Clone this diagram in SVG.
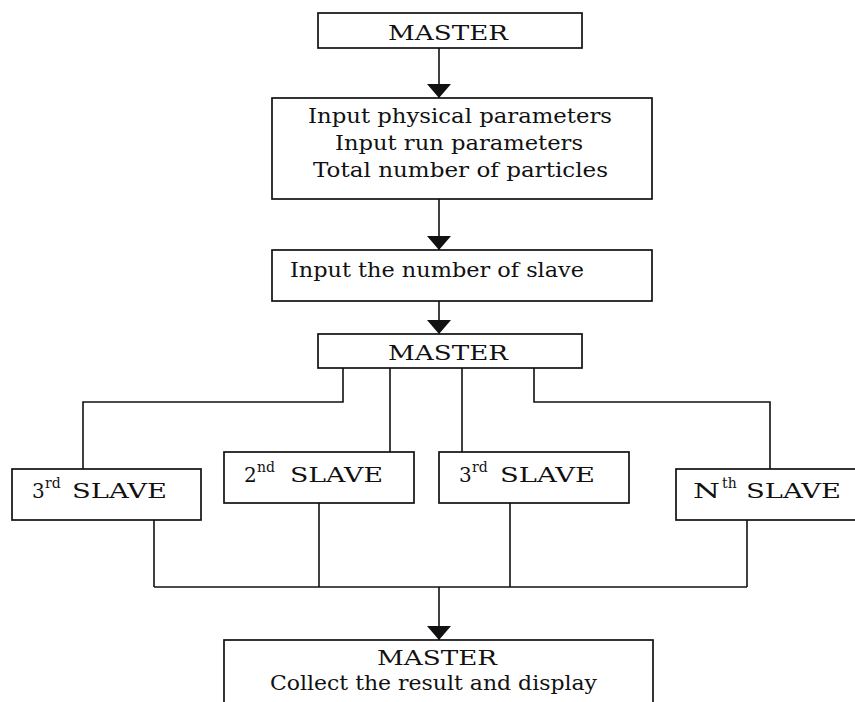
<svg xmlns="http://www.w3.org/2000/svg" width="855" height="702" viewBox="0 0 855 702">
<style>
  .box { fill: #ffffff; stroke: #111; stroke-width: 1.7; }
  .t { font-family: "DejaVu Serif", "Liberation Serif", serif; font-size: 20px; fill: #111; }
  .sup { font-size: 14px; }
  .wire { fill: none; stroke: #111; stroke-width: 1.6; }
</style>
<defs>
  <marker id="arrow" markerUnits="userSpaceOnUse" markerWidth="24" markerHeight="16" viewBox="0 0 24 16" refX="12" refY="15" orient="0">
    <path d="M0,1 L24,1 L12,15 Z" fill="#111"/>
  </marker>
</defs>
<rect width="855" height="702" fill="#ffffff"/>

<g id="connectors">
  <line class="wire" x1="439" y1="48" x2="439" y2="98" marker-end="url(#arrow)"/>
  <line class="wire" x1="439" y1="199" x2="439" y2="250" marker-end="url(#arrow)"/>
  <line class="wire" x1="439" y1="301" x2="439" y2="334" marker-end="url(#arrow)"/>
  <polyline class="wire" points="343,368 343,402 83,402 83,469"/>
  <line class="wire" x1="390" y1="368" x2="390" y2="452"/>
  <line class="wire" x1="462" y1="368" x2="462" y2="452"/>
  <polyline class="wire" points="534,368 534,402 770,402 770,469"/>
  <line class="wire" x1="154" y1="520" x2="154" y2="587"/>
  <line class="wire" x1="319" y1="503" x2="319" y2="587"/>
  <line class="wire" x1="510" y1="503" x2="510" y2="587"/>
  <line class="wire" x1="747" y1="520" x2="747" y2="587"/>
  <line class="wire" x1="154" y1="587" x2="747" y2="587"/>
  <line class="wire" x1="439" y1="587" x2="439" y2="640" marker-end="url(#arrow)"/>
</g>

<g id="master-top">
  <rect class="box" x="318" y="13" width="264" height="35"/>
  <text class="t" x="388" y="40" textLength="120" lengthAdjust="spacingAndGlyphs">MASTER</text>
</g>

<g id="input-params">
  <rect class="box" x="272" y="98" width="380" height="101"/>
  <text class="t">
    <tspan x="308" y="123" textLength="304" lengthAdjust="spacingAndGlyphs">Input physical parameters</tspan>
    <tspan x="335" y="150" textLength="248" lengthAdjust="spacingAndGlyphs">Input run parameters</tspan>
    <tspan x="313" y="177" textLength="295" lengthAdjust="spacingAndGlyphs">Total number of particles</tspan>
  </text>
</g>

<g id="input-slaves">
  <rect class="box" x="272" y="250" width="380" height="51"/>
  <text class="t" x="290" y="277" textLength="294" lengthAdjust="spacingAndGlyphs">Input the number of slave</text>
</g>

<g id="master-mid">
  <rect class="box" x="318" y="334" width="264" height="34"/>
  <text class="t" x="388" y="360" textLength="120" lengthAdjust="spacingAndGlyphs">MASTER</text>
</g>

<g id="slave-3-left">
  <rect class="box" x="12" y="469" width="189" height="51"/>
  <text class="t"><tspan x="32" y="498">3</tspan><tspan class="sup" x="45" y="488">rd</tspan><tspan x="72" y="498" textLength="95" lengthAdjust="spacingAndGlyphs">SLAVE</tspan></text>
</g>

<g id="slave-2">
  <rect class="box" x="224" y="452" width="190" height="51"/>
  <text class="t"><tspan x="244" y="482">2</tspan><tspan class="sup" x="257" y="472">nd</tspan><tspan x="290" y="482" textLength="93" lengthAdjust="spacingAndGlyphs">SLAVE</tspan></text>
</g>

<g id="slave-3-right">
  <rect class="box" x="439" y="452" width="190" height="51"/>
  <text class="t"><tspan x="459" y="482">3</tspan><tspan class="sup" x="472" y="472">rd</tspan><tspan x="500" y="482" textLength="95" lengthAdjust="spacingAndGlyphs">SLAVE</tspan></text>
</g>

<g id="slave-n">
  <rect class="box" x="676" y="469" width="190" height="51"/>
  <text class="t"><tspan x="693" y="498" textLength="27" lengthAdjust="spacingAndGlyphs">N</tspan><tspan class="sup" x="722" y="488">th</tspan><tspan x="746" y="498" textLength="95" lengthAdjust="spacingAndGlyphs">SLAVE</tspan></text>
</g>

<g id="master-bottom">
  <rect class="box" x="224" y="640" width="429" height="80"/>
  <text class="t">
    <tspan x="377" y="665" textLength="120" lengthAdjust="spacingAndGlyphs">MASTER</tspan>
    <tspan x="270" y="690" textLength="327" lengthAdjust="spacingAndGlyphs">Collect the result and display</tspan>
  </text>
</g>
</svg>
